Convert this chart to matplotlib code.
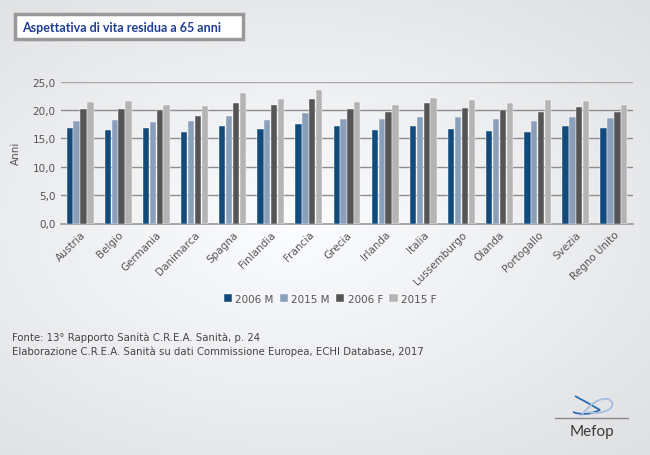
import numpy as np
import matplotlib
matplotlib.use("Agg")
import matplotlib.pyplot as plt
from matplotlib.patches import Rectangle
from matplotlib.path import Path
from matplotlib.patches import PathPatch

# Data
countries = ["Austria", "Belgio", "Germania", "Danimarca", "Spagna", "Finlandia",
             "Francia", "Grecia", "Irlanda", "Italia", "Lussemburgo", "Olanda",
             "Portogallo", "Svezia", "Regno Unito"]
m_2006 = [16.8, 16.5, 16.8, 16.1, 17.1, 16.6, 17.6, 17.2, 16.5, 17.2, 16.6, 16.3, 16.1, 17.2, 16.8]
m_2015 = [18.1, 18.3, 17.9, 18.1, 19.0, 18.3, 19.4, 18.4, 18.4, 18.8, 18.8, 18.4, 18.1, 18.8, 18.6]
f_2006 = [20.2, 20.2, 19.9, 19.0, 21.2, 20.9, 21.9, 20.2, 19.6, 21.2, 20.4, 19.9, 19.6, 20.5, 19.6]
f_2015 = [21.4, 21.5, 20.9, 20.6, 22.9, 21.9, 23.5, 21.4, 20.9, 22.1, 21.8, 21.2, 21.8, 21.5, 20.8]
series_labels = ["2006 M", "2015 M", "2006 F", "2015 F"]
series_colors = ["#134a7c", "#8a9fba", "#555555", "#b4b4b4"]
y_ticks = [0, 5, 10, 15, 20, 25]

W, H = 650, 456
fig = plt.figure(figsize=(W / 100, H / 100), dpi=100)

# background gradient
bg = fig.add_axes([0, 0, 1, 1], zorder=-10)
yy, xx = np.mgrid[0:1:200j, 0:1:300j]
r = np.sqrt(((xx - 0.45) / 0.9) ** 2 + ((yy - 0.5) / 0.8) ** 2)
shade = np.clip(1 - 0.13 * r, 0, 1)
img = np.dstack([shade * 0.985, shade * 0.99, shade * 1.0])
bg.imshow(img, extent=[0, 1, 0, 1], aspect="auto", origin="lower")
bg.set_axis_off()

# title box
fig.patches.append(Rectangle((15 / W, 1 - 40 / H), 228 / W, 25 / H, transform=fig.transFigure,
                             facecolor="white", edgecolor="#999999", linewidth=2.5, zorder=5))
fig.text(22 / W, 1 - 28 / H, "Aspettativa di vita residua a 65 anni", fontsize=9,
         color="#1f3f94", fontweight="bold", family="Lato", va="center", ha="left", zorder=6)

# main axes
ax = fig.add_axes([61 / W, 1 - 224.5 / H, 572 / W, 142 / H])
ax.patch.set_alpha(0)
x = np.arange(len(countries))
step = 0.18
width = 0.165
all_series = [m_2006, m_2015, f_2006, f_2015]
for i, (vals, lab, col) in enumerate(zip(all_series, series_labels, series_colors)):
    ax.bar(x + (i - 1.5) * step, vals, width, color=col, label=lab, zorder=3,
           edgecolor="white", linewidth=0.3)

ax.set_xlim(-0.5, len(countries) - 0.5)
ax.set_ylim(0, 25)
ax.set_yticks(y_ticks)
ax.set_yticklabels([f"{v:.1f}".replace(".", ",") for v in y_ticks], fontsize=7.5, color="#555555")
for v in y_ticks[1:]:
    ax.axhline(v, color="#8c8c8c" if v < 25 else "#a8a8a8", linewidth=1, zorder=1)
ax.set_xticks(x)
ax.set_xticklabels(countries, rotation=45, ha="right", rotation_mode="anchor",
                   fontsize=7.5, color="#555555")
ax.tick_params(length=0, pad=4)
for s in ["top", "right", "left"]:
    ax.spines[s].set_visible(False)
ax.spines["bottom"].set_color("#999999")
ax.spines["bottom"].set_linewidth(1.2)
ax.set_ylabel("Anni", fontsize=7.5, color="#555555", labelpad=8)

leg = fig.legend(loc="center", bbox_to_anchor=(330 / W, 1 - 300 / H), ncol=4, fontsize=7.5,
                 frameon=False, handlelength=0.8, handleheight=0.8, handletextpad=0.3,
                 columnspacing=0.6, labelcolor="#555555")

fig.text(12 / W, 1 - 338 / H, "Fonte: 13° Rapporto Sanità C.R.E.A. Sanità, p. 24",
         fontsize=7.3, color="#444444", va="center")
fig.text(12 / W, 1 - 352 / H,
         "Elaborazione C.R.E.A. Sanità su dati Commissione Europea, ECHI Database, 2017",
         fontsize=7.3, color="#444444", va="center")

# logo
fig.text(592 / W, 1 - 432 / H, "Mefop", fontsize=11, color="#3a3a3a", ha="center", va="center",
         family="Lato")
fig.add_artist(plt.Line2D([555 / W, 628 / W], [1 - 419 / H, 1 - 419 / H],
                          color="#888888", linewidth=1, transform=fig.transFigure))
p1 = Path([(575, 397), (590, 405), (600, 411), (585, 418), (573, 413)],
          [Path.MOVETO, Path.CURVE3, Path.CURVE3, Path.CURVE3, Path.CURVE3])
p2 = Path([(581, 417), (595, 398), (608, 400), (616, 404), (610, 410), (600, 416), (588, 413)],
          [Path.MOVETO, Path.CURVE3, Path.CURVE3, Path.CURVE3, Path.CURVE3, Path.CURVE3, Path.CURVE3])
for p, c in [(p1, "#2a6db5"), (p2, "#a9bedf")]:
    verts = [(vx / W, 1 - vy / H) for vx, vy in p.vertices]
    fig.patches.append(PathPatch(Path(verts, p.codes), facecolor="none", edgecolor=c,
                                 linewidth=1.3, transform=fig.transFigure))

fig.savefig("out.png", dpi=100)
